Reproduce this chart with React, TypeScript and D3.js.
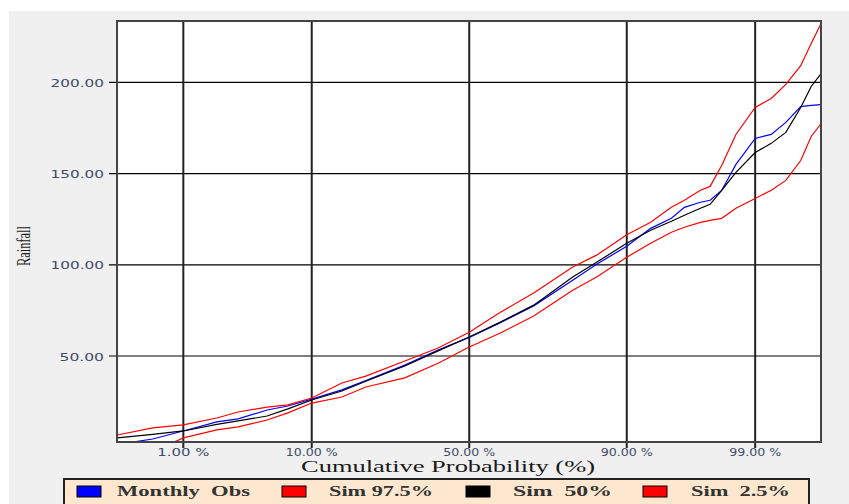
import React from 'react';
import * as d3 from 'd3';

// cumulative probability (%) at which each curve was read
const percents = [0.21, 0.5, 1, 2, 3, 5, 7, 10, 15, 20, 30, 40, 50, 60, 70, 80, 85, 90, 93, 95, 96, 97, 97.5, 98, 98.5, 99, 99.3, 99.5, 99.65, 99.73, 99.79];

const obsValues = [1.5, 4.5, 8.9, 13.9, 15.5, 20.4, 22.6, 26.4, 31.4, 36.5, 45.0, 53.3, 60.2, 68.3, 77.5, 91.6, 100.3, 110.2, 120.0, 125.5, 131.5, 134.3, 135.4, 140.8, 155.1, 169.3, 171.5, 178.1, 186.8, 187.4, 187.9];
const sim975Values = [6.7, 10.6, 12.2, 16.0, 19.3, 22.0, 23.2, 27.0, 35.2, 39.0, 47.3, 54.4, 63.0, 74.0, 84.5, 98.8, 105.3, 116.5, 123.3, 131.6, 135.4, 140.9, 143.0, 154.5, 171.5, 186.3, 191.2, 198.9, 209.2, 221.3, 232.3];
const sim50Values = [5.1, 7.0, 8.9, 12.5, 14.4, 17.1, 21.0, 25.9, 30.8, 36.2, 44.5, 52.8, 60.4, 68.6, 77.9, 93.3, 101.4, 111.8, 119.0, 123.9, 127.2, 131.0, 133.2, 140.8, 150.7, 161.6, 166.6, 172.6, 186.3, 197.8, 204.9];
const sim25Values = [-8, -2.5, 5.1, 9.5, 11.1, 14.9, 18.8, 24.2, 27.5, 33.0, 38.0, 46.0, 54.9, 62.6, 71.9, 86.1, 93.3, 104.2, 111.8, 117.9, 120.6, 123.3, 124.4, 125.5, 131.0, 136.4, 140.9, 146.3, 157.2, 170.4, 177.5];

const xTicks = [1, 10, 50, 90, 99];
const yTicks = [50, 100, 150, 200];

const legendItems = [
  { label: 'Monthly  Obs', color: '#0000ff' },
  { label: 'Sim 97.5%', color: '#ff0000' },
  { label: 'Sim  50%', color: '#000000' },
  { label: 'Sim  2.5%', color: '#ff0000' },
];

// inverse of the normal cdf (Acklam)
function probit(p: number) {
  const a = [-39.69683028665376, 220.9460984245205, -275.9285104469687, 138.357751867269, -30.66479806614716, 2.506628277459239];
  const b = [-54.47609879822406, 161.5858368580409, -155.6989798598866, 66.80131188771972, -13.28068155288572];
  const c = [-0.007784894002430293, -0.3223964580411365, -2.400758277161838, -2.549732539343734, 4.374664141464968, 2.938163982698783];
  const d = [0.007784695709041462, 0.3224671290700398, 2.445134137142996, 3.754408661907416];
  const pl = 0.02425;
  let q, r;
  if (p < pl) {
    q = Math.sqrt(-2 * Math.log(p));
    return (((((c[0] * q + c[1]) * q + c[2]) * q + c[3]) * q + c[4]) * q + c[5]) / ((((d[0] * q + d[1]) * q + d[2]) * q + d[3]) * q + 1);
  }
  if (p > 1 - pl) {
    q = Math.sqrt(-2 * Math.log(1 - p));
    return -(((((c[0] * q + c[1]) * q + c[2]) * q + c[3]) * q + c[4]) * q + c[5]) / ((((d[0] * q + d[1]) * q + d[2]) * q + d[3]) * q + 1);
  }
  q = p - 0.5;
  r = q * q;
  return (((((a[0] * r + a[1]) * r + a[2]) * r + a[3]) * r + a[4]) * r + a[5]) * q / (((((b[0] * r + b[1]) * r + b[2]) * r + b[3]) * r + b[4]) * r + 1);
}

export default function App() {
  const W = 849, H = 504;
  const left = 117, right = 821, top = 21, bottom = 442;

  const z = d3.scaleLinear().domain([-2.866, 2.862]).range([left, right]);
  const x = (pct: number) => z(probit(pct / 100));
  const y = d3.scaleLinear().domain([2.85, 233.7]).range([bottom, top]);

  const line = d3.line<[number, number]>()
    .x(d => x(d[0]))
    .y(d => y(d[1]));

  const series = [
    { values: obsValues, color: '#0000ff' },
    { values: sim975Values, color: '#ff0000' },
    { values: sim50Values, color: '#000000' },
    { values: sim25Values, color: '#ff0000' },
  ];

  const tickFont = { fontFamily: 'DejaVu Sans', fontSize: 11, fill: '#3d4b6b' };
  const legendX = [[77, 117, 133], [282, 329, 104], [466, 513, 99], [643, 691, 99]];

  return (
    <div style={{ position: 'absolute', left: 0, top: 0 }}>
      <svg width={W} height={H}>
        <defs>
          <clipPath id="plotClip">
            <rect x={left} y={top} width={right - left} height={bottom - top} />
          </clipPath>
        </defs>
        <rect x={9} y={11} width={W - 9} height={H - 11} fill="#f0f0f0" />
        <rect x={left} y={top} width={right - left} height={bottom - top} fill="#ffffff" />

        {yTicks.map(t => {
          const label = t.toFixed(2);
          return (
            <g key={'y' + t}>
              <line x1={109} x2={right} y1={y(t)} y2={y(t)} stroke="#000" strokeWidth={1.2} />
              <text x={104} y={y(t) + 4.5} textAnchor="end" textLength={label.length * 8.9} lengthAdjust="spacingAndGlyphs" style={tickFont}>{label}</text>
            </g>
          );
        })}
        {xTicks.map(t => (
          <g key={'x' + t}>
            <line x1={x(t)} x2={x(t)} y1={top} y2={bottom + 6} stroke="#222" strokeWidth={2} />
            <text x={x(t)} y={456} textAnchor="middle" textLength={52} lengthAdjust="spacingAndGlyphs"
              style={{ ...tickFont, whiteSpace: 'pre' }}>{t.toFixed(2) + ' %'}</text>
          </g>
        ))}

        <g clipPath="url(#plotClip)">
          {series.map((s, i) => (
            <path key={i}
              d={line(percents.map((p, j) => [p, s.values[j]] as [number, number])) || ''}
              fill="none" stroke={s.color} strokeWidth={1.2} />
          ))}
        </g>

        <rect x={left} y={top} width={right - left} height={bottom - top} fill="none" stroke="#444" strokeWidth={2} />

        <text x={448} y={472} textAnchor="middle" textLength={294} lengthAdjust="spacingAndGlyphs"
          style={{ fontFamily: 'Liberation Serif', fontSize: 16, fill: '#1a1a1a' }}>Cumulative Probability (%)</text>
        <text transform="translate(30,246) rotate(-90)" textAnchor="middle" textLength={40} lengthAdjust="spacingAndGlyphs"
          style={{ fontFamily: 'Liberation Serif', fontSize: 18, fill: '#1a1a1a' }}>Rainfall</text>

        <rect x={64} y={479} width={745} height={32} fill="#fde8cf" stroke="#222" strokeWidth={2} />
        {legendItems.map((it, i) => (
          <g key={it.label}>
            <rect x={legendX[i][0]} y={486} width={24} height={11} fill={it.color} stroke="#000" strokeWidth={1} />
            <text x={legendX[i][1]} y={496} textLength={legendX[i][2]} lengthAdjust="spacingAndGlyphs"
              style={{ fontFamily: 'Liberation Serif', fontSize: 15, fontWeight: 'bold', fill: '#333', whiteSpace: 'pre' }}>{it.label}</text>
          </g>
        ))}
      </svg>
    </div>
  );
}
